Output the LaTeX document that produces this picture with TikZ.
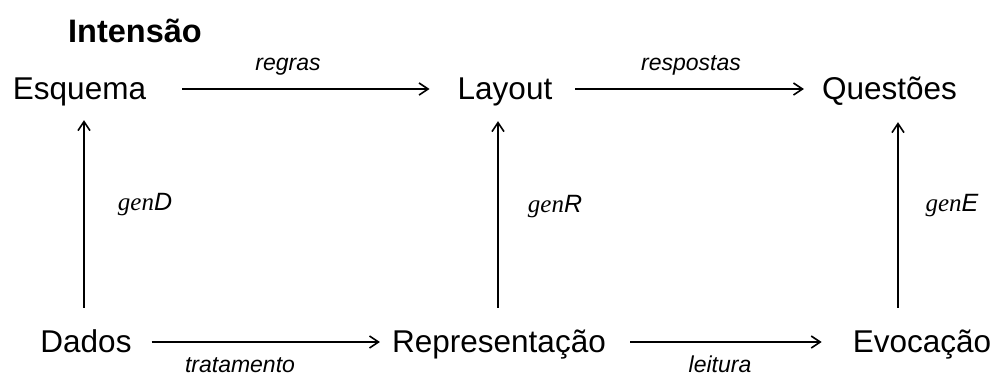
\documentclass[tikz,border=0pt]{standalone}
\usepackage{fontspec}
\setmainfont{Liberation Sans}
\newfontfamily\genserif{Liberation Serif}
\usetikzlibrary{arrows.meta}
\begin{document}
\begin{tikzpicture}[x=1pt,y=-1pt,
  term/.style={inner sep=0pt, anchor=base, text height=20pt, text depth=0pt, font=\fontsize{31.5}{36}\selectfont},
  lbl/.style={inner sep=0pt, anchor=base, font=\fontsize{23}{27}\selectfont\itshape},
  genl/.style={inner sep=0pt, font=\fontsize{25}{29}\selectfont},
  arr/.style={line width=1.6pt, -{Straight Barb[length=9pt,width=12pt,line width=1.6pt]}},
]
\useasboundingbox (0,0) rectangle (997,376);
\node[inner sep=0pt, anchor=base, font=\fontsize{32.5}{36}\selectfont\bfseries] (title) at (135,42) {Intensão};
\node[term] (esq) at (79.5,99) {Esquema};
\node[term] (lay) at (505,99) {Layout};
\node[term] (que) at (889.5,99) {Questões};
\node[term] (dad) at (86,352) {Dados};
\node[term] (rep) at (499,352) {Representação};
\node[term] (evo) at (922,352) {Evocação};

\draw[arr, shorten <=36pt, shorten >=28pt] (esq) -- (lay);
\draw[arr, shorten <=23pt, shorten >=18pt] (lay) -- (que);
\draw[arr, shorten <=20pt, shorten >=12pt] (dad) -- (rep);
\draw[arr, shorten <=24pt, shorten >=31pt] (rep) -- (evo);

\draw[arr, shorten <=24pt, shorten >=21pt] ([xshift=-2pt]dad.north) -- ([xshift=4.5pt]esq.south);
\draw[arr, shorten <=24pt, shorten >=22pt] ([xshift=-1pt]rep.north) -- ([xshift=-7pt]lay.south);
\draw[arr, shorten <=24pt, shorten >=23pt] ([xshift=-24pt]evo.north) -- ([xshift=8.5pt]que.south);

\node[lbl] (lr) at (288,70) {regras};
\node[lbl] (lrs) at (691,70) {respostas};
\node[lbl] (lt) at (240,372) {tratamento};
\node[lbl] (ll) at (720,372) {leitura};

\node[genl] (gd) at (145,205) {{\genserif\itshape gen}{\itshape D}};
\node[genl] (gr) at (555,207) {{\genserif\itshape gen}{\itshape R}};
\node[genl] (ge) at (952,206) {{\genserif\itshape gen}{\itshape E}};
\end{tikzpicture}
\end{document}
